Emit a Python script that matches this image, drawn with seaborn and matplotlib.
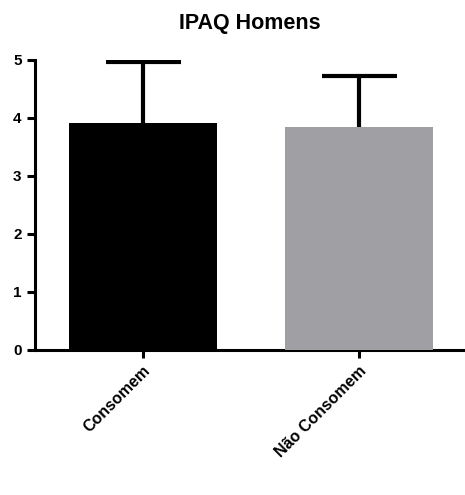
import matplotlib
matplotlib.use("Agg")
import matplotlib.pyplot as plt
import seaborn as sns
import pandas as pd

grupos = ["Consomem", "Não Consomem"]
medias = [3.91, 3.84]
erros = [1.05, 0.88]
cores = ["#000000", "#a0a0a4"]

sns.set_theme(style="ticks")
plt.rcParams['font.family'] = ['Liberation Sans', 'DejaVu Sans']
plt.rcParams['text.color'] = 'black'
plt.rcParams['xtick.color'] = 'black'
plt.rcParams['ytick.color'] = 'black'

df = pd.DataFrame({"grupo": grupos, "ipaq": medias})

fig = plt.figure(figsize=(4.65, 4.95), dpi=100)
ax = fig.add_axes([0.075, 0.293, 0.925, 0.586])

sns.barplot(data=df, x="grupo", y="ipaq", hue="grupo", palette=cores,
            width=0.685, errorbar=None, legend=False, ax=ax, zorder=3, linewidth=0)

# barra de erro so para cima
_, caps, _ = ax.errorbar(range(len(grupos)), medias, yerr=[[0] * len(erros), erros],
                         fmt="none", ecolor="black", elinewidth=3, capsize=27,
                         capthick=3, zorder=2)
caps[0].set_visible(False)

ax.set_ylim(0, 5)
ax.set_xlim(-0.5, 1.49)
ax.set_yticks(range(6))
ax.set_xlabel("")
ax.set_ylabel("")
ax.set_title("IPAQ Homens", fontsize=15.5, fontweight="bold", pad=22, color="black")

for s in ["top", "right"]:
    ax.spines[s].set_visible(False)
for s in ["left", "bottom"]:
    ax.spines[s].set_linewidth(2.2)
    ax.spines[s].set_color("black")
ax.tick_params(axis="both", width=2.2, length=6, color="black", labelsize=11)
for lbl in ax.get_yticklabels():
    lbl.set_fontweight("bold")
ax.set_xticks(range(len(grupos)))
ax.set_xticklabels(grupos, rotation=45, ha="right", rotation_mode="anchor",
                   fontweight="bold", fontsize=11.5)

fig.savefig("out.png", dpi=100)
